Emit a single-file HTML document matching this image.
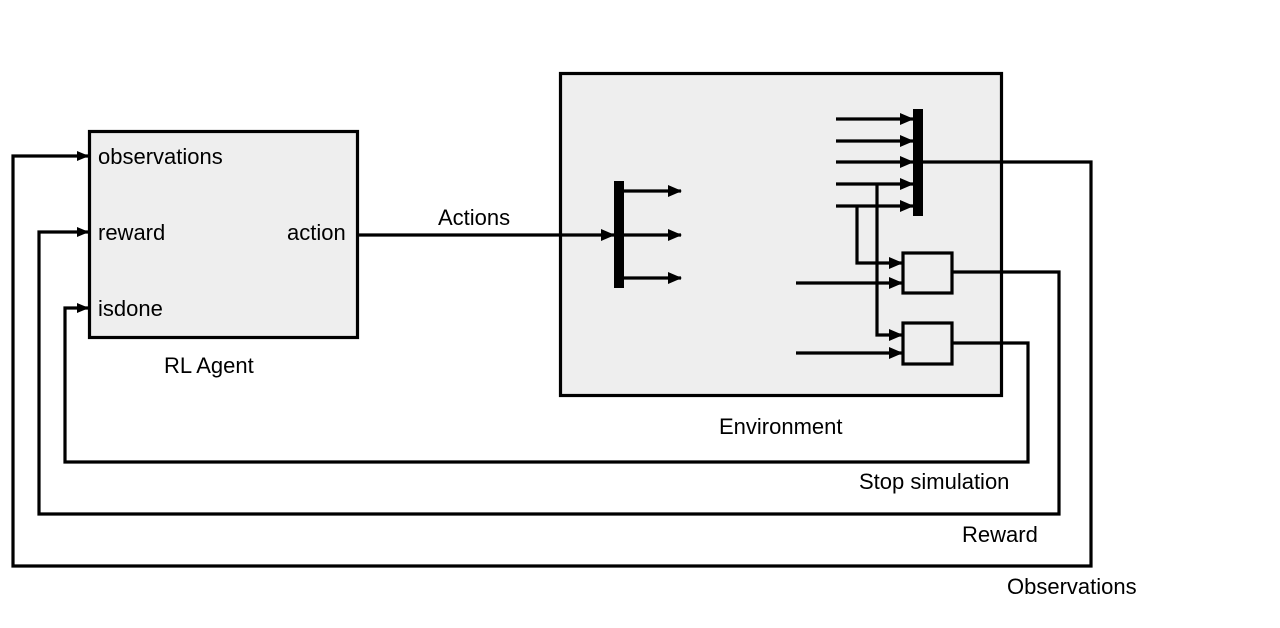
<!DOCTYPE html>
<html><head><meta charset="utf-8"><style>
html,body{margin:0;padding:0;background:#fff;width:1280px;height:628px;overflow:hidden}
text{font-family:"Liberation Sans",sans-serif;font-size:22px;fill:#000}
</style></head><body>
<svg width="1280" height="628" viewBox="0 0 1280 628" xmlns="http://www.w3.org/2000/svg">
<defs>
<marker id="a" markerWidth="12" markerHeight="12" refX="11" refY="6" orient="auto" markerUnits="userSpaceOnUse">
<path d="M0,1 L12,6 L0,11 z" fill="#000"/></marker>
<marker id="b" markerWidth="14" markerHeight="14" refX="13" refY="7" orient="auto" markerUnits="userSpaceOnUse">
<path d="M0,1 L14,7 L0,13 z" fill="#000"/></marker>
</defs>
<g fill="none" stroke="#000" stroke-width="3.2">
<rect x="89.5" y="131.5" width="268" height="206" fill="#eeeeee"/>
<rect x="560.5" y="73.5" width="441" height="322" fill="#eeeeee"/>
<rect x="903" y="253" width="49" height="40" fill="#eeeeee"/>
<rect x="903" y="323" width="49" height="41" fill="#eeeeee"/>
<line x1="358" y1="235" x2="614" y2="235" marker-end="url(#b)"/>
<line x1="623" y1="191" x2="681" y2="191" marker-end="url(#b)"/>
<line x1="623" y1="235" x2="681" y2="235" marker-end="url(#b)"/>
<line x1="623" y1="278" x2="681" y2="278" marker-end="url(#b)"/>
<line x1="836" y1="119" x2="913" y2="119" marker-end="url(#b)"/>
<line x1="836" y1="141" x2="913" y2="141" marker-end="url(#b)"/>
<line x1="836" y1="162" x2="913" y2="162" marker-end="url(#b)"/>
<line x1="836" y1="184" x2="913" y2="184" marker-end="url(#b)"/>
<line x1="836" y1="206" x2="913" y2="206" marker-end="url(#b)"/>
<polyline points="857,206 857,263 902,263" marker-end="url(#b)"/>
<polyline points="877,184 877,335 902,335" marker-end="url(#b)"/>
<line x1="796" y1="283" x2="902" y2="283" marker-end="url(#b)"/>
<line x1="796" y1="353" x2="902" y2="353" marker-end="url(#b)"/>
<polyline points="922,162 1091,162 1091,566 13,566 13,156 88,156" marker-end="url(#a)"/>
<polyline points="952,272 1059,272 1059,514 39,514 39,232 88,232" marker-end="url(#a)"/>
<polyline points="952,343 1028,343 1028,462 65,462 65,308 88,308" marker-end="url(#a)"/>
</g>
<rect x="614" y="181" width="10" height="107" fill="#000"/>
<rect x="913" y="109" width="10" height="107" fill="#000"/>
<text x="98" y="164">observations</text>
<text x="98" y="240">reward</text>
<text x="98" y="316">isdone</text>
<text x="287" y="240">action</text>
<text x="164" y="373">RL Agent</text>
<text x="438" y="225">Actions</text>
<text x="719" y="434">Environment</text>
<text x="859" y="489">Stop simulation</text>
<text x="962" y="542">Reward</text>
<text x="1007" y="594">Observations</text>
</svg>
</body></html>
